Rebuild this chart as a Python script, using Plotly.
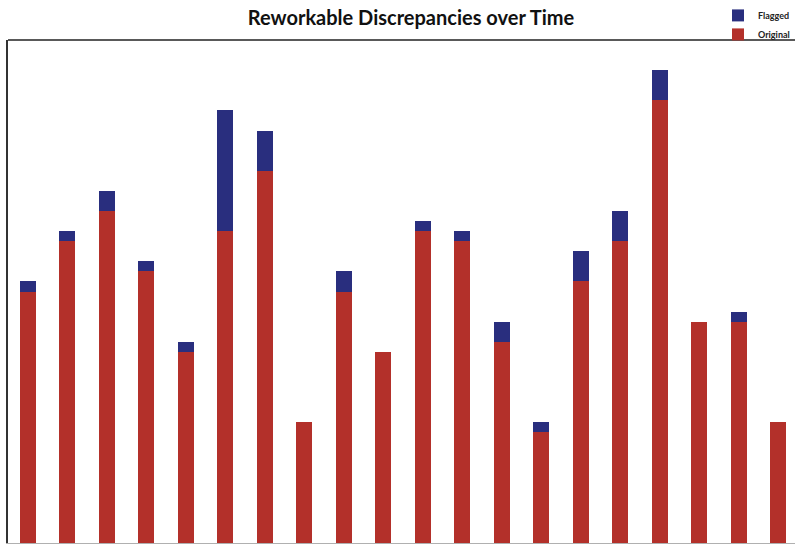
import plotly.graph_objects as go

# Monthly periods (unlabelled on the chart) and discrepancy counts
periods = list(range(1, 21))
original = [25, 30, 33, 27, 19, 31, 37, 12, 25, 19, 31, 30, 20, 11, 26, 30, 44, 22, 22, 12]
flagged = [1, 1, 2, 1, 1, 12, 4, 0, 2, 0, 1, 1, 2, 1, 3, 3, 3, 0, 1, 0]

RED = "#B3302A"
BLUE = "#292E7E"

fig = go.Figure()
fig.add_trace(go.Bar(x=periods, y=original, name="<b>Original</b>",
                     marker=dict(color=RED, line=dict(width=0))))
fig.add_trace(go.Bar(x=periods, y=flagged, name="<b>Flagged</b>",
                     marker=dict(color=BLUE, line=dict(width=0))))

fig.update_layout(
    width=795, height=544,
    margin=dict(l=8, r=0, t=40, b=1, autoexpand=False),
    paper_bgcolor="white", plot_bgcolor="white",
    barmode="stack", bargap=0.595,
    title=dict(text="<b>Reworkable Discrepancies over Time</b>",
               x=0.517, xanchor="center", y=0.967, yanchor="middle",
               font=dict(family="Lato", size=20, color="#111111")),
    legend=dict(x=1.0, xanchor="right", y=1.03, yanchor="middle",
                traceorder="reversed", bgcolor="rgba(0,0,0,0)",
                font=dict(family="Lato", size=9, color="#222222"),
                itemwidth=30, tracegroupgap=0),
    showlegend=True,
    xaxis=dict(range=[-0.507 + 1, 19.43 + 1], showticklabels=False, ticks="",
               showgrid=False, zeroline=False,
               showline=True, linecolor="#b0b0b0", linewidth=1),
    yaxis=dict(range=[0, 50], showticklabels=False, ticks="",
               showgrid=False, zeroline=False,
               showline=True, linecolor="#333333", linewidth=1.5),
    shapes=[dict(type="line", xref="paper", yref="paper",
                 x0=0, x1=1, y0=1, y1=1,
                 line=dict(color="#222222", width=1.5))],
)

fig.write_html("out.html")
